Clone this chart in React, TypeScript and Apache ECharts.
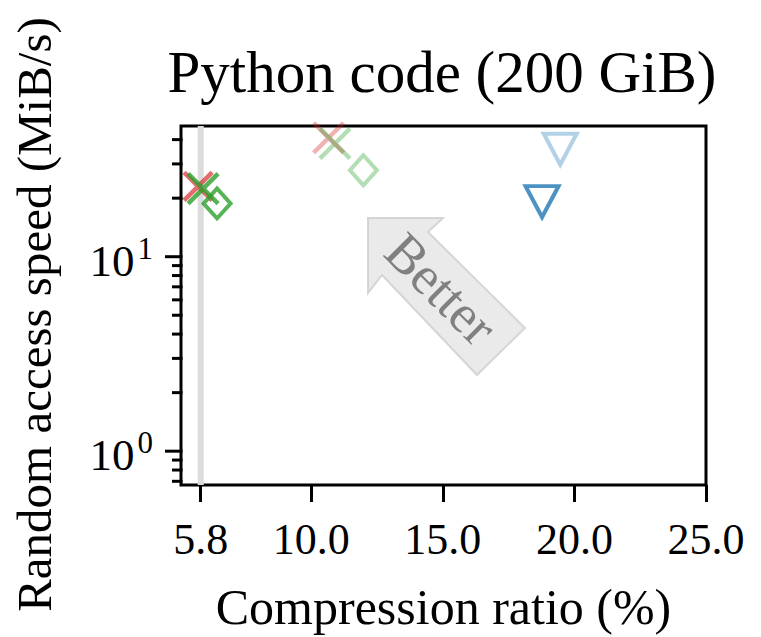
import React, { useEffect, useRef } from "react";
import * as echarts from "echarts";

// ---- data ----
const xTicks = [5.8, 10, 15, 20, 25];
const xMin = 5.05;
const xMax = 25;
const yMin = 0.67;
const yMax = 47;
const yMajorTicks = [1, 10];
const yTickExponents = ["0", "1"];
const yMinorTicks = [0.7, 0.8, 0.9, 2, 3, 4, 5, 6, 7, 8, 9, 20, 30, 40];
const baselineRatio = 5.8;

// [compression ratio %, random access speed MiB/s]
const redStrongX = [[5.7, 23.0]];
const greenStrongX = [[5.89, 22.4]];
const greenStrongDiamond = [[6.42, 18.8]];
const redLightX = [[10.66, 40.9]];
const greenLightX = [[10.9, 38.2]];
const greenLightDiamond = [[11.98, 27.8]];
const blueStrongTri = [[18.77, 19.2]];
const blueLightTri = [[19.46, 35.7]];

const FONT = "'Liberation Serif', 'DejaVu Serif', serif";
const XPATH = "path://M0,0L20,20M20,0L0,20";

export default function App() {
  const ref = useRef<HTMLDivElement>(null);
  useEffect(() => {
    document.body.style.margin = "0";
    const chart = echarts.init(ref.current!, null, { renderer: "svg" });
    const gridLeft = 181;
    const gridTop = 126;

    const yTickData = [
      ...yMajorTicks.map((v) => [xMin, v, 16]),
      ...yMinorTicks.map((v) => [xMin, v, 9]),
    ];
    const yLabelData = yMajorTicks.map((v, i) => [xMin, v, i]);

    const scatter = (
      data: number[][],
      symbol: string,
      size: number | number[],
      color: string,
      width: number,
      rotate = 0
    ) => ({
      type: "scatter",
      data,
      symbol,
      symbolSize: size,
      symbolRotate: rotate,
      itemStyle: { color: "rgba(0,0,0,0)", borderColor: color, borderWidth: width },
      clip: false,
      silent: true,
    });

    const option: any = {
      animation: false,
      backgroundColor: "#fff",
      title: {
        text: "Python code (200 GiB)",
        left: 437,
        textAlign: "center",
        top: 37,
        textStyle: { fontFamily: FONT, fontSize: 59, fontWeight: "normal", color: "#000" },
      },
      grid: {
        left: gridLeft,
        right: 55,
        top: gridTop,
        bottom: 140,
        show: true,
        borderColor: "#000",
        borderWidth: 3,
        backgroundColor: "rgba(0,0,0,0)",
      },
      xAxis: {
        type: "value",
        min: xMin,
        max: xMax,
        axisLine: { show: false },
        splitLine: { show: false },
        axisTick: {
          show: true,
          length: 17,
          customValues: xTicks,
          lineStyle: { color: "#000", width: 3 },
        },
        axisLabel: {
          customValues: xTicks,
          formatter: (v: number) => v.toFixed(1),
          margin: 32,
          fontFamily: FONT,
          fontSize: 44,
          color: "#000",
        },
        name: "Compression ratio (%)",
        nameLocation: "middle",
        nameGap: 97,
        nameTextStyle: { fontFamily: FONT, fontSize: 50, color: "#000" },
      },
      yAxis: {
        type: "log",
        min: yMin,
        max: yMax,
        axisLine: { show: false },
        axisTick: { show: false },
        axisLabel: { show: false },
        splitLine: { show: false },
        minorTick: { show: false },
        name: "Random access speed (MiB/s)",
        nameLocation: "middle",
        nameGap: 122,
        nameTextStyle: { fontFamily: FONT, fontSize: 49, color: "#000", padding: [0, 18, 0, 0] },
      },
      graphic: [
        {
          type: "polygon",
          z: 1,
          silent: true,
          shape: {
            points: [
              [368, 218],
              [368, 293],
              [382, 275],
              [477, 375],
              [525, 328],
              [428, 232],
              [443, 218],
            ],
          },
          style: { fill: "rgba(220,220,220,0.6)", stroke: "rgba(205,205,205,0.8)", lineWidth: 2 },
        },
        {
          type: "text",
          z: 2,
          silent: true,
          x: 441,
          y: 289,
          rotation: -Math.PI / 4,
          style: {
            text: "Better",
            fontFamily: FONT,
            fontSize: 54,
            fill: "#808080",
            align: "center",
            verticalAlign: "middle",
          },
        },
      ],
      series: [
        {
          type: "line",
          data: [
            [baselineRatio, yMin],
            [baselineRatio, yMax],
          ],
          symbol: "none",
          lineStyle: { color: "#dcdcdc", width: 6 },
          silent: true,
          z: 1,
        },
        {
          type: "custom",
          data: yTickData,
          encode: { x: 0, y: 1 },
          clip: false,
          silent: true,
          renderItem: (params: any, api: any) => {
            const p = api.coord([api.value(0), api.value(1)]);
            const len = api.value(2);
            return {
              type: "line",
              shape: { x1: p[0] - len, y1: p[1], x2: p[0] + 1.5, y2: p[1] },
              style: { stroke: "#000", lineWidth: 3 },
            };
          },
        },
        {
          type: "custom",
          data: yLabelData,
          encode: { x: 0, y: 1 },
          clip: false,
          silent: true,
          renderItem: (params: any, api: any) => {
            const p = api.coord([api.value(0), api.value(1)]);
            const idx = api.value(2);
            return {
              type: "text",
              x: p[0] - 28,
              y: p[1] + 4,
              style: {
                text: `{b|10}{s|${yTickExponents[idx]}}`,
                align: "right",
                verticalAlign: "middle",
                rich: {
                  b: { fontFamily: FONT, fontSize: 45, fill: "#000", color: "#000", lineHeight: 56 },
                  s: {
                    fontFamily: FONT,
                    fontSize: 31,
                    fill: "#000",
                    color: "#000",
                    verticalAlign: "top",
                    lineHeight: 30,
                    padding: [0, 0, 0, 3],
                  },
                },
              },
            };
          },
        },
        scatter(redStrongX, XPATH, 28, "rgba(214,39,40,0.85)", 4.5),
        scatter(greenStrongX, XPATH, 30, "#2ca02c", 4.5),
        scatter(greenStrongDiamond, "diamond", [27, 30], "#2ca02c", 4),
        scatter(redLightX, XPATH, 30, "rgba(214,39,40,0.45)", 4.5),
        scatter(greenLightX, XPATH, 30, "rgba(44,160,44,0.45)", 4.5),
        scatter(greenLightDiamond, "diamond", [27, 30], "rgba(44,160,44,0.45)", 4),
        scatter(blueStrongTri, "triangle", [33, 31], "#1f77b4", 4, 180),
        scatter(blueLightTri, "triangle", [33, 31], "rgba(31,119,180,0.42)", 4, 180),
      ],
    };
    chart.setOption(option);
    return () => chart.dispose();
  }, []);
  return (
    <div
      ref={ref}
      style={{ position: "absolute", left: 0, top: 0, width: 761, height: 637 }}
    />
  );
}
